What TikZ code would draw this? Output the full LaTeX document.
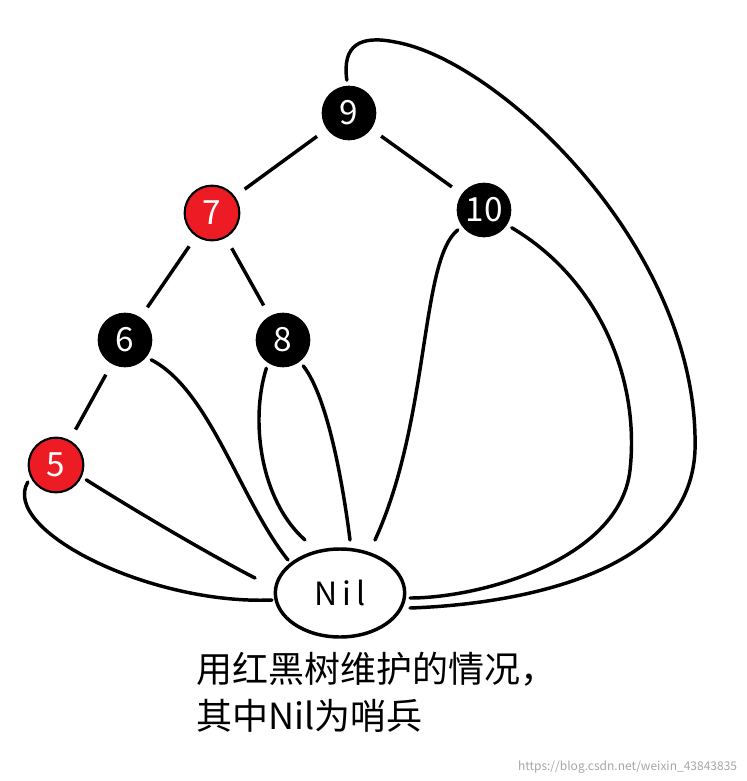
\documentclass[tikz,border=0pt]{standalone}
\usepackage{fontspec}
\setmainfont{Noto Sans CJK SC}
\usetikzlibrary{shapes.geometric}

\tikzset{
  blk/.style={circle,fill=black,text=white,minimum size=41pt,inner sep=0pt,font=\fontsize{25}{25}\selectfont},
  redn/.style={blk,fill={rgb,255:red,237;green,28;blue,36},draw=black,line width=1.6pt},
  edge/.style={line width=2.6pt,shorten <=9pt,shorten >=9pt},
  link/.style={line width=2.6pt,line cap=round,shorten <=4pt}
}

\begin{document}
\begin{tikzpicture}[x=0.75pt,y=0.75pt,yscale=-1,xscale=1]
\useasboundingbox (0,0) rectangle (746,781);

% tree nodes
\node[blk]  (n9)  at (349,113) {9};
\node[redn] (n7)  at (212,213) {7};
\node[blk]  (n10) at (484,210) {10};
\node[blk]  (n6)  at (125,340) {6};
\node[blk]  (n8)  at (283,340) {8};
\node[redn] (n5)  at (56,465) {5};
\node[ellipse,draw,line width=2.6pt,minimum width=97pt,minimum height=66pt,font=\fontsize{24}{24}\selectfont] (nil) at (340,593) {N\,i\,l};

% ends near Nil
\coordinate (e9)  at (410,608);
\coordinate (e10r) at (410,598);
\coordinate (e10l) at (375,540);
\coordinate (e8r) at (350,540);
\coordinate (e8l) at (305,540);
\coordinate (e6)  at (288,560);
\coordinate (e5r) at (255,578);
\coordinate (e5l) at (272,600);

% tree edges
\draw[edge] (n9) -- (n7);
\draw[edge] (n9) -- (n10);
\draw[edge] (n7) -- (n6);
\draw[edge] (n7) -- (n8);
\draw[edge] (n6) -- (n5);

% links to Nil
\draw[link] (n9.93) .. controls (342,45) and (360,35) .. (395,42) .. controls (500,60) and (700,250) .. (695,450) .. controls (690,580) and (500,605) .. (e9);
\draw[link] (n10.-33) .. controls (600,280) and (640,380) .. (630,470) .. controls (620,560) and (480,598) .. (e10r);
\draw[link] (n10.217) .. controls (420,260) and (430,420) .. (e10l);
\draw[link] (n8.-52) .. controls (330,400) and (345,500) .. (e8r);
\draw[link] (n8.237) .. controls (250,420) and (260,500) .. (e8l);
\draw[link] (n6.-39) .. controls (210,390) and (240,500) .. (e6);
\draw[link] (n5.-25) .. controls (150,520) and (220,560) .. (e5r);
\draw[link] (n5.206) .. controls (0,530) and (150,605) .. (e5l);

% caption
\node[anchor=north west,align=left,inner sep=0pt,font=\fontsize{27}{35}\selectfont] (cap) at (196,652) {用红黑树维护的情况，\\其中Nil为哨兵};
\node[anchor=south east,inner sep=2pt,text=gray!70,font=\fontsize{9}{9}\selectfont] (wm) at (740,776) {https://blog.csdn.net/weixin\_43843835};

\end{tikzpicture}
\end{document}
